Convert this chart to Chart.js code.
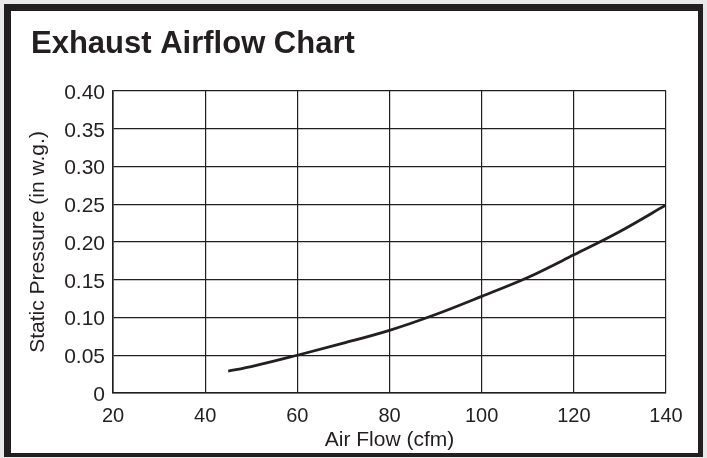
<!DOCTYPE html>
<html>
<head>
<meta charset="utf-8">
<script src="https://cdn.jsdelivr.net/npm/chart.js@4.4.1/dist/chart.umd.min.js"></script>
<style>
  html, body { margin: 0; padding: 0; background: #e9e9e9; }
  #frame {
    position: absolute; left: 4px; top: 4px;
    width: 687px; height: 442px;
    border-style: solid; border-color: #231f20;
    border-width: 7px 5px 4px 7px;
    background: #fff;
  }
  #wrap { position: absolute; left: 0; top: 0; width: 707px; height: 458px; }
</style>
</head>
<body>
<div id="frame"></div>
<div id="wrap"><canvas id="c" width="707" height="458"></canvas></div>
<script>
// Exhaust airflow curve.
const flowCfm  = [45, 50, 60, 70, 80, 90, 100, 110, 120, 130, 140];
const pressure = [0.029, 0.035, 0.050, 0.066, 0.083, 0.104, 0.128, 0.153, 0.183, 0.214, 0.249];

const xTicks = [20, 40, 60, 80, 100, 120, 140];
const yTicks = [0, 0.05, 0.10, 0.15, 0.20, 0.25, 0.30, 0.35, 0.40];

const INK = '#231f20';
const FONT = '"Liberation Sans", Arial, sans-serif';

new Chart(document.getElementById('c'), {
  type: 'line',
  data: {
    datasets: [{
      data: flowCfm.map((x, i) => ({ x, y: pressure[i] })),
      borderColor: INK,
      borderWidth: 2.8,
      pointRadius: 0,
      cubicInterpolationMode: 'monotone',
      fill: false,
    }],
  },
  options: {
    responsive: false,
    animation: false,
    layout: { padding: { top: 10, left: 31, right: 41, bottom: 3 } },
    plugins: {
      legend: { display: false },
      tooltip: { enabled: false },
      title: {
        display: true,
        text: 'Exhaust Airflow Chart',
        align: 'start',
        color: INK,
        font: { family: FONT, size: 31, weight: 'bold', lineHeight: 1.2 },
        padding: { top: 15.4, bottom: 28.4 },
      },
    },
    scales: {
      x: {
        type: 'linear',
        min: xTicks[0],
        max: xTicks[xTicks.length - 1],
        afterFit: (s) => { s.height = 62; },
        afterBuildTicks: (s) => { s.ticks = xTicks.map((v) => ({ value: v })); },
        ticks: { color: INK, padding: 11, font: { family: FONT, size: 20 }, maxRotation: 0 },
        grid: { color: INK, lineWidth: 1.2, drawTicks: false },
        border: { color: INK, width: 1.6 },
        title: {
          display: true, text: 'Air Flow (cfm)', color: INK,
          font: { family: FONT, size: 21, lineHeight: 1.2 },
          padding: { top: 0, bottom: 2.4 },
        },
      },
      y: {
        min: yTicks[0],
        max: yTicks[yTicks.length - 1],
        afterFit: (s) => { s.width = 82; },
        afterBuildTicks: (s) => { s.ticks = yTicks.map((v) => ({ value: v })); },
        ticks: {
          color: INK, padding: 8, labelOffset: 2,
          font: { family: FONT, size: 21 },
          callback: (v) => (v === 0 ? '0' : Number(v).toFixed(2)),
        },
        grid: { color: INK, lineWidth: 1.2, drawTicks: false },
        border: { color: INK, width: 1.6 },
        title: {
          display: true, text: 'Static Pressure (in w.g.)', color: INK,
          font: { family: FONT, size: 21, lineHeight: 1.2 },
          padding: { top: -5.6, bottom: 0 },
        },
      },
    },
  },
});
</script>
</body>
</html>
